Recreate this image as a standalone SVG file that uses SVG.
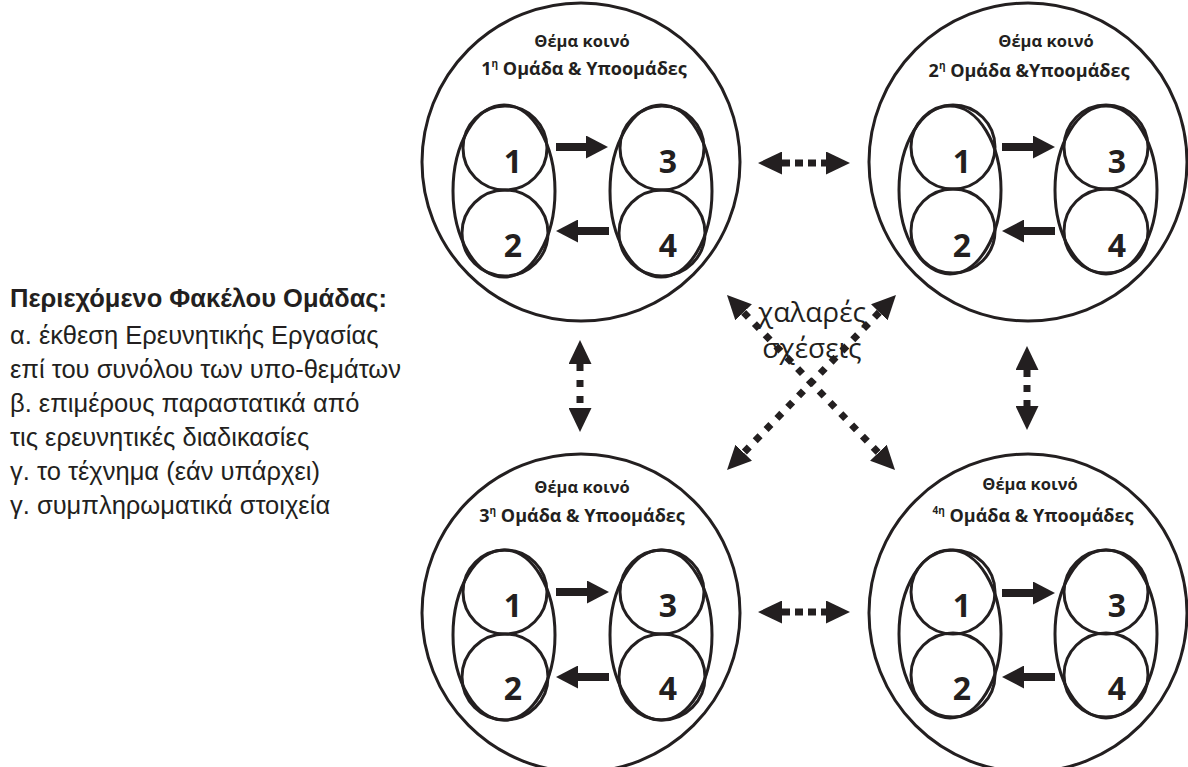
<svg xmlns="http://www.w3.org/2000/svg" width="1188" height="767" viewBox="0 0 1188 767">
<style>
.big{fill:none;stroke:#231f20;stroke-width:3}
.ov{fill:none;stroke:#231f20;stroke-width:3}
.ttl{font-family:"Open Sans","Noto Sans","DejaVu Sans",sans-serif;font-weight:bold;fill:#231f20;text-anchor:middle}
.t1{font-size:16.5px}
.t2{font-size:18px}
.sup{font-size:10px}
.num{font-family:"Open Sans","Noto Sans","DejaVu Sans",sans-serif;font-weight:bold;font-size:32px;fill:#231f20;text-anchor:middle}
.arr{stroke:#231f20;stroke-width:8;fill:none}
.dot{stroke:#231f20;stroke-width:7;fill:none}
.side{font-family:"Liberation Sans",Arial,sans-serif;font-size:25.5px;fill:#231f20}
.lbl{font-family:"Open Sans","Noto Sans","DejaVu Sans",sans-serif;font-size:28px;fill:#231f20;text-anchor:middle}
</style>
<defs>
<marker id="ah" viewBox="0 0 22 23" refX="0" refY="11.5" markerWidth="22" markerHeight="23" markerUnits="userSpaceOnUse" orient="auto-start-reverse"><path d="M0,0 L22,11.5 L0,23 Z" fill="#231f20"/></marker>
<marker id="dh" viewBox="0 0 24 23" refX="0" refY="11.5" markerWidth="24" markerHeight="23" markerUnits="userSpaceOnUse" orient="auto-start-reverse"><path d="M0,0 L24,11.5 L0,23 Z" fill="#231f20"/></marker>
</defs>

<g id="group1">
<circle class="big" cx="581" cy="162" r="159"/>
<text class="ttl t1" x="582" y="47">Θέμα κοινό</text>
<text class="ttl t2" x="584" y="75">1<tspan class="sup" dy="-8">η</tspan><tspan dy="8"> Ομάδα &amp; Υποομάδες</tspan></text>
<ellipse class="ov" cx="504" cy="191" rx="51" ry="86"/>
<circle class="ov" cx="505" cy="148" r="42"/>
<circle class="ov" cx="505" cy="233" r="43"/>
<ellipse class="ov" cx="661" cy="191" rx="51" ry="86"/>
<circle class="ov" cx="662" cy="148" r="42"/>
<circle class="ov" cx="662" cy="233" r="43"/>
<text class="num" x="513" y="173">1</text>
<text class="num" x="513" y="257">2</text>
<text class="num" x="668" y="173">3</text>
<text class="num" x="668" y="257">4</text>
<line class="arr" x1="556" y1="147" x2="586" y2="147" marker-end="url(#ah)"/>
<line class="arr" x1="609" y1="231" x2="578" y2="231" marker-end="url(#ah)"/>
</g>

<g id="group2">
<circle class="big" cx="1028" cy="162" r="159"/>
<text class="ttl t1" x="1046" y="47">Θέμα κοινό</text>
<text class="ttl t2" x="1029" y="77">2<tspan class="sup" dy="-8">η</tspan><tspan dy="8"> Ομάδα &amp;Υποομάδες</tspan></text>
<ellipse class="ov" cx="950" cy="190" rx="51" ry="84"/>
<circle class="ov" cx="953" cy="147" r="42"/>
<circle class="ov" cx="953" cy="231" r="42"/>
<ellipse class="ov" cx="1106" cy="190" rx="51" ry="84"/>
<circle class="ov" cx="1106" cy="147" r="42"/>
<circle class="ov" cx="1106" cy="231" r="42"/>
<text class="num" x="962" y="173">1</text>
<text class="num" x="962" y="257">2</text>
<text class="num" x="1117" y="173">3</text>
<text class="num" x="1117" y="257">4</text>
<line class="arr" x1="1002" y1="147" x2="1033" y2="147" marker-end="url(#ah)"/>
<line class="arr" x1="1055" y1="231" x2="1024" y2="231" marker-end="url(#ah)"/>
</g>

<g id="group3">
<circle class="big" cx="581" cy="613" r="159"/>
<text class="ttl t1" x="582" y="493">Θέμα κοινό</text>
<text class="ttl t2" x="582" y="522">3<tspan class="sup" dy="-8">η</tspan><tspan dy="8"> Ομάδα &amp;  Υποομάδες</tspan></text>
<ellipse class="ov" cx="504" cy="635" rx="51" ry="85"/>
<circle class="ov" cx="505" cy="592" r="42"/>
<circle class="ov" cx="505" cy="677" r="43"/>
<ellipse class="ov" cx="661" cy="635" rx="51" ry="85"/>
<circle class="ov" cx="662" cy="592" r="42"/>
<circle class="ov" cx="662" cy="677" r="43"/>
<text class="num" x="513" y="617">1</text>
<text class="num" x="513" y="700">2</text>
<text class="num" x="668" y="617">3</text>
<text class="num" x="668" y="700">4</text>
<line class="arr" x1="556" y1="592" x2="587" y2="592" marker-end="url(#ah)"/>
<line class="arr" x1="609" y1="677" x2="578" y2="677" marker-end="url(#ah)"/>
</g>

<g id="group4">
<circle class="big" cx="1028" cy="613" r="159"/>
<text class="ttl t1" x="1030" y="490">Θέμα κοινό</text>
<text class="ttl t2" x="1033" y="522"><tspan class="sup" dy="-8">4η</tspan><tspan dy="8"> Ομάδα &amp; Υποομάδες</tspan></text>
<ellipse class="ov" cx="950" cy="634" rx="51" ry="84"/>
<circle class="ov" cx="953" cy="592" r="42"/>
<circle class="ov" cx="953" cy="675" r="42"/>
<ellipse class="ov" cx="1106" cy="634" rx="51" ry="84"/>
<circle class="ov" cx="1106" cy="592" r="42"/>
<circle class="ov" cx="1106" cy="675" r="42"/>
<text class="num" x="962" y="617">1</text>
<text class="num" x="962" y="700">2</text>
<text class="num" x="1117" y="617">3</text>
<text class="num" x="1117" y="700">4</text>
<line class="arr" x1="1002" y1="593" x2="1033" y2="593" marker-end="url(#ah)"/>
<line class="arr" x1="1055" y1="677" x2="1024" y2="677" marker-end="url(#ah)"/>
</g>

<g id="connectors">
<line class="dot" x1="782" y1="163" x2="826" y2="163" stroke-dasharray="8 5" marker-start="url(#dh)" marker-end="url(#dh)"/>
<line class="dot" x1="782" y1="612" x2="826" y2="612" stroke-dasharray="8 5" marker-start="url(#dh)" marker-end="url(#dh)"/>
<line class="dot" x1="580" y1="364" x2="580" y2="408" stroke-dasharray="7 9" marker-start="url(#dh)" marker-end="url(#dh)"/>
<line class="dot" x1="1027" y1="370" x2="1027" y2="406" stroke-dasharray="7 8" marker-start="url(#dh)" marker-end="url(#dh)"/>
<line class="dot" x1="743.6" y1="312.3" x2="878.4" y2="452.7" stroke-dasharray="7 8.6" marker-start="url(#dh)" marker-end="url(#dh)"/>
<line class="dot" x1="879.3" y1="312.3" x2="743.7" y2="452.7" stroke-dasharray="7 8.6" marker-start="url(#dh)" marker-end="url(#dh)"/>
</g>

<g id="label-loose">
<text class="lbl" x="812" y="322">χαλαρές</text>
<text class="lbl" x="812" y="358">σχέσεις</text>
</g>

<g id="folder-contents">
<text class="side" x="10" y="307" font-weight="bold">Περιεχόμενο Φακέλου Ομάδας:</text>
<text class="side" x="10" y="344">α. έκθεση Ερευνητικής Εργασίας</text>
<text class="side" x="10" y="378">επί του συνόλου των υπο-θεμάτων</text>
<text class="side" x="10" y="412">β. επιμέρους παραστατικά από</text>
<text class="side" x="10" y="446">τις ερευνητικές διαδικασίες</text>
<text class="side" x="10" y="480">γ. το τέχνημα (εάν υπάρχει)</text>
<text class="side" x="10" y="514">γ. συμπληρωματικά στοιχεία</text>
</g>
</svg>
